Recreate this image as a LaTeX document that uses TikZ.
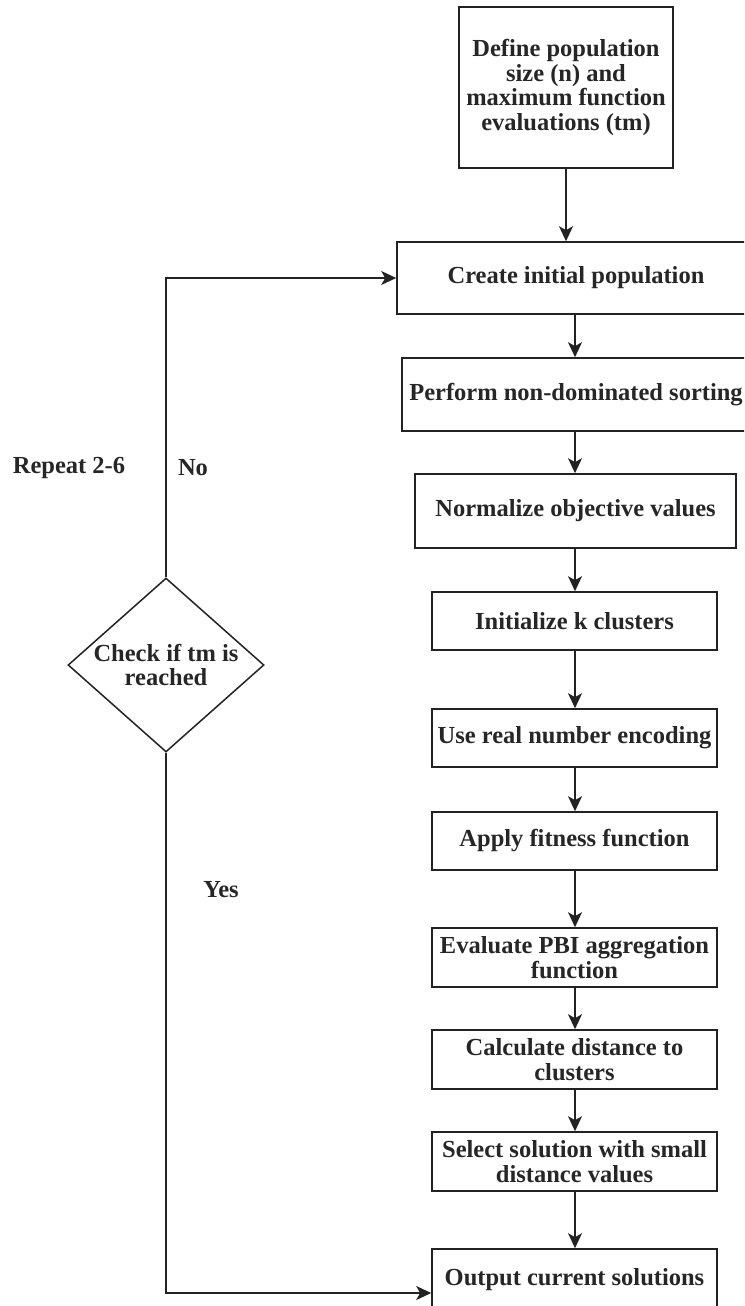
\documentclass[tikz,border=0pt]{standalone}
\usepackage{fontspec}
\setmainfont{Liberation Serif}
\usetikzlibrary{shapes.geometric,arrows.meta}
\definecolor{ln}{RGB}{34, 34, 34}
\definecolor{tx}{RGB}{38, 38, 38}

\begin{document}
\begin{tikzpicture}[x=1pt, y=1pt,
every node/.style={inner sep=0pt, text=tx, align=center, font=\fontsize{24.5}{24.7}\selectfont\bfseries},
stepbox/.style={rectangle, draw=ln, line width=1.6pt},
check/.style={diamond, draw=ln, line width=1.5pt, minimum width=196pt, minimum height=174pt},
flow/.style={line width=1.6pt, color=ln, -{Stealth[length=15pt, width=14pt, inset=4pt]}}]
\useasboundingbox (0,0) rectangle (744,-1306);
\clip (0,0) rectangle (744,-1306);
\node (1) [stepbox, minimum width=214pt, minimum height=161pt] at (566, -87.5) {Define population\\size (n) and\\maximum function\\evaluations (tm)};
\node (2) [stepbox, minimum width=358pt, minimum height=72pt] at (576, -278) {Create initial population};
\node (3) [stepbox, minimum width=348pt, minimum height=73pt] at (576, -394.5) {Perform non-dominated sorting};
\node (4) [stepbox, minimum width=321pt, minimum height=74pt] at (575.5, -511) {Normalize objective values};
\node (5) [stepbox, minimum width=285pt, minimum height=58pt] at (574.5, -621) {Initialize k clusters};
\node (6) [stepbox, minimum width=285pt, minimum height=58pt] at (574.5, -738) {Use real number encoding};
\node (7) [stepbox, minimum width=285pt, minimum height=58pt] at (574.5, -841) {Apply fitness function};
\node (8) [stepbox, minimum width=285pt, minimum height=59pt] at (574.5, -957.5) {Evaluate PBI aggregation\\function};
\node (9) [stepbox, minimum width=285pt, minimum height=59pt] at (574.5, -1059.5) {Calculate distance to\\clusters};
\node (10) [stepbox, minimum width=285pt, minimum height=59pt] at (574.5, -1161.5) {Select solution with small\\distance values};
\node (11) [stepbox, minimum width=285pt, minimum height=62pt] at (574.5, -1280) {Output current solutions};
\node (12) [check] at (166, -665) {};
\node (13) at (12) {Check if tm is\\reached};
\node (14) at (69, -468) {Repeat 2-6};
\node (15) at (193, -468) {No};
\node (16) at (221, -890) {Yes};
\draw [flow] (1) -- (1 |- 2.north);
\draw [flow] (2.south -| 575,0) -- (3.north -| 575,0);
\draw [flow] (3.south -| 575,0) -- (4.north -| 575,0);
\draw [flow] (4.south -| 575,0) -- (5.north -| 575,0);
\draw [flow] (5.south -| 575,0) -- (6.north -| 575,0);
\draw [flow] (6.south -| 575,0) -- (7.north -| 575,0);
\draw [flow] (7.south -| 575,0) -- (8.north -| 575,0);
\draw [flow] (8.south -| 575,0) -- (9.north -| 575,0);
\draw [flow] (9.south -| 575,0) -- (10.north -| 575,0);
\draw [flow] (10.south -| 575,0) -- (11.north -| 575,0);
\draw [flow] (12.north) |- (2.west);
\draw [flow] (12.south) |- ([yshift=-13pt]11.west);
\end{tikzpicture}
\end{document}
